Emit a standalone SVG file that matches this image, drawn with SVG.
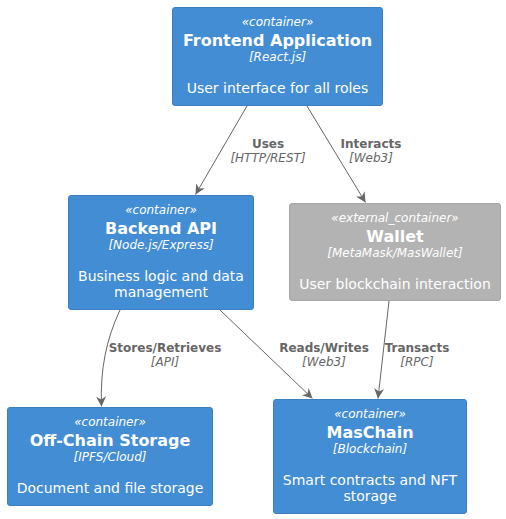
<svg xmlns="http://www.w3.org/2000/svg" width="506" height="519" viewBox="0 0 506 519">
<style>
text{font-family:"DejaVu Sans","Noto Sans",sans-serif;text-anchor:middle}
.box{fill:#438DD5;stroke:#3C7FC0;stroke-width:1}
.ext{fill:#B3B3B3;stroke:#A6A6A6;stroke-width:1}
.st{font-size:12px;font-style:italic;fill:#FFFFFF}
.ti{font-size:16px;font-weight:bold;fill:#FFFFFF}
.te{font-size:12px;font-style:italic;fill:#FFFFFF}
.de{font-size:14px;fill:#FFFFFF}
.edge{fill:none;stroke:#666666;stroke-width:1}
.lb{font-size:12px;font-weight:bold;fill:#666666}
.lt{font-size:12px;font-style:italic;fill:#666666}
</style>
<defs>
<marker id="arr" viewBox="0 0 10 10" refX="10" refY="5" markerWidth="10" markerHeight="10" markerUnits="userSpaceOnUse" orient="auto">
<path d="M0,0 L10,5 L0,10 L3,5 Z" fill="#666666"/>
</marker>
</defs>
<g id="frontend">
<rect class="box" x="172.5" y="7.5" width="210" height="98" rx="2.5"/>
<text class="st" x="277.5" y="26">«container»</text>
<text class="ti" x="277.5" y="46">Frontend Application</text>
<text class="te" x="277.5" y="61">[React.js]</text>
<text class="de" x="277.5" y="93">User interface for all roles</text>
</g>
<g id="backend">
<rect class="box" x="68.5" y="195.5" width="185" height="114" rx="2.5"/>
<text class="st" x="161" y="214">«container»</text>
<text class="ti" x="161" y="234">Backend API</text>
<text class="te" x="161" y="249">[Node.js/Express]</text>
<text class="de" x="161" y="281">Business logic and data</text>
<text class="de" x="161" y="297">management</text>
</g>
<g id="wallet">
<rect class="ext" x="289.5" y="203.5" width="211" height="97" rx="2.5"/>
<text class="st" x="395" y="222">«external_container»</text>
<text class="ti" x="395" y="242">Wallet</text>
<text class="te" x="395" y="257">[MetaMask/MasWallet]</text>
<text class="de" x="395" y="289">User blockchain interaction</text>
</g>
<g id="offchain">
<rect class="box" x="7.5" y="407.5" width="205" height="98" rx="2.5"/>
<text class="st" x="110" y="426">«container»</text>
<text class="ti" x="110" y="446">Off-Chain Storage</text>
<text class="te" x="110" y="461">[IPFS/Cloud]</text>
<text class="de" x="110" y="493">Document and file storage</text>
</g>
<g id="maschain">
<rect class="box" x="273.5" y="399.5" width="193" height="114" rx="2.5"/>
<text class="st" x="370" y="418">«container»</text>
<text class="ti" x="370" y="438">MasChain</text>
<text class="te" x="370" y="453">[Blockchain]</text>
<text class="de" x="370" y="485">Smart contracts and NFT</text>
<text class="de" x="370" y="501">storage</text>
</g>
<g id="connectors">
<path class="edge" d="M247,106 L195.5,194.5" marker-end="url(#arr)"/>
<text class="lb" x="268" y="148">Uses</text>
<text class="lt" x="268" y="162">[HTTP/REST]</text>
<path class="edge" d="M307,106 L365.5,202.5" marker-end="url(#arr)"/>
<text class="lb" x="371" y="148">Interacts</text>
<text class="lt" x="371" y="162">[Web3]</text>
<path class="edge" d="M120,310 C106,340 100,370 101.5,406.5" marker-end="url(#arr)"/>
<text class="lb" x="165" y="352">Stores/Retrieves</text>
<text class="lt" x="165" y="366">[API]</text>
<path class="edge" d="M220,310 L312.5,398.5" marker-end="url(#arr)"/>
<text class="lb" x="324" y="352">Reads/Writes</text>
<text class="lt" x="324" y="366">[Web3]</text>
<path class="edge" d="M389,301 L378,398.5" marker-end="url(#arr)"/>
<text class="lb" x="417" y="352">Transacts</text>
<text class="lt" x="417" y="366">[RPC]</text>
</g>
</svg>
